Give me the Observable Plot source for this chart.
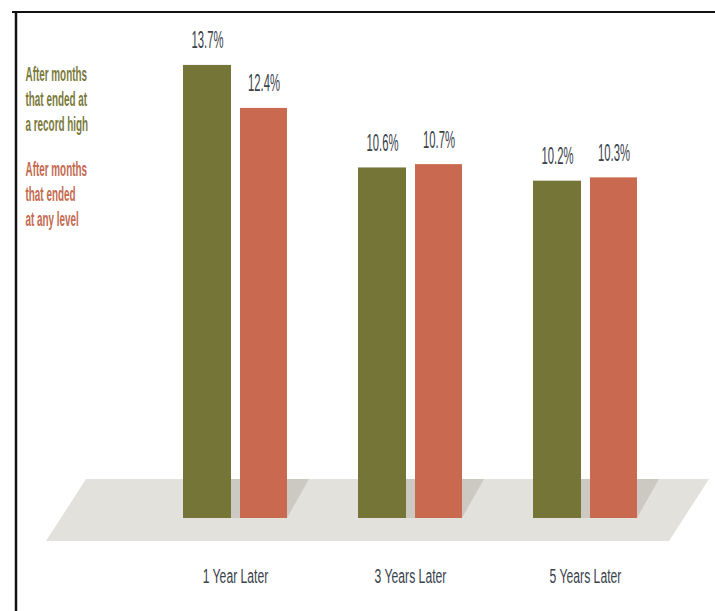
<!DOCTYPE html>
<html>
<head>
<meta charset="utf-8">
<script src="https://cdn.jsdelivr.net/npm/d3@7"></script>
<script src="https://cdn.jsdelivr.net/npm/@observablehq/plot@0.6"></script>
<style>
  html, body { margin: 0; padding: 0; background: #ffffff; }
  #chart { width: 715px; height: 611px; }
</style>
</head>
<body>
<div id="chart"></div>
<script>
// ---- data ----
const periods = ["1 Year Later", "3 Years Later", "5 Years Later"];
const recordHigh = [13.7, 10.6, 10.2];
const anyLevel = [12.4, 10.7, 10.3];
const legendHigh = ["After months", "that ended at", "a record high"];
const legendAny = ["After months", "that ended", "at any level"];

const highData = periods.map((p, i) => ({period: p, value: recordHigh[i]}));
const anyData = periods.map((p, i) => ({period: p, value: anyLevel[i]}));

const GREEN = "#767538";
const RED = "#c9694f";
const LABEL = "#3a424c";
const FONT = "'Liberation Sans', Arial, sans-serif";
const fmt = d => d.value.toFixed(1) + "%";

const plot = Plot.plot({
  width: 715,
  height: 611,
  margin: 0,
  style: {background: "#ffffff", fontFamily: FONT},
  x: {type: "band", domain: periods, range: [147.5, 672.5], padding: 0, round: false, axis: null},
  y: {domain: [0, 14], range: [518, 55], axis: null},
  marks: [
    Plot.barY(highData, {x: "period", y: "value", fill: GREEN, insetLeft: 35.5, insetRight: 91.5}),
    Plot.barY(anyData, {x: "period", y: "value", fill: RED, insetLeft: 92.5, insetRight: 35.5}),
    Plot.text(highData, {x: "period", y: "value", text: fmt, dx: -28, dy: -17, lineAnchor: "bottom", fontSize: 24, fill: LABEL}),
    Plot.text(anyData, {x: "period", y: "value", text: fmt, dx: 28.5, dy: -17, lineAnchor: "bottom", fontSize: 24, fill: LABEL}),
    Plot.text(periods, {x: d => d, frameAnchor: "bottom", lineAnchor: "bottom", dy: -29, fontSize: 21, fill: LABEL}),
    Plot.text([legendHigh.join("\n")], {frameAnchor: "top-left", textAnchor: "start", lineAnchor: "top", dx: 25, dy: 63, fontSize: 20, fontWeight: "bold", lineHeight: 25 / 20, fill: "#7b7a3c", text: d => d}),
    Plot.text([legendAny.join("\n")], {frameAnchor: "top-left", textAnchor: "start", lineAnchor: "top", dx: 25, dy: 158, fontSize: 20, fontWeight: "bold", lineHeight: 25 / 20, fill: "#c46a50", text: d => d})
  ]
});

document.getElementById("chart").appendChild(plot);

const svg = d3.select(plot);

// squeeze text horizontally to mimic the condensed typeface
const squeezeFactors = [0.47, 0.47, 0.58, 0.495, 0.495];
svg.selectAll('g[aria-label="text"]').each(function(_, gi) {
  const k = squeezeFactors[gi] ?? 1;
  d3.select(this).selectAll("text").each(function() {
    const t = this.getAttribute("transform");
    if (t) {
      this.setAttribute("transform", t + ` scale(${k},1)`);
    } else {
      const x = +this.getAttribute("x") || 0, y = +this.getAttribute("y") || 0;
      this.removeAttribute("x"); this.removeAttribute("y");
      this.setAttribute("transform", `translate(${x},${y}) scale(${k},1)`);
    }
  });
});

// floor + shadows behind bars (decoration derived from scales)
const xs = plot.scale("x");
const floorTop = 479, floorBottom = 541, barBase = 518;
const deco = svg.insert("g", "g");
deco.append("path")
  .attr("d", `M86,${floorTop}L709,${floorTop}L669,${floorBottom}L46,${floorBottom}Z`)
  .attr("fill", "#e2e1dc");
periods.forEach(p => {
  const start = xs.apply(p);
  const x0 = start + 35.5, x1 = start + xs.bandwidth - 35.5;
  deco.append("path")
    .attr("d", `M${x0},${floorTop}L${x1 + 22},${floorTop}L${x1},${barBase}L${x0},${barBase}Z`)
    .attr("fill", "#cbc9c1");
});

// frame lines (top and left)
svg.append("line").attr("x1", 12).attr("x2", 715).attr("y1", 12).attr("y2", 12)
  .attr("stroke", "#111").attr("stroke-width", 2);
svg.append("line").attr("x1", 16).attr("x2", 16).attr("y1", 11).attr("y2", 611)
  .attr("stroke", "#111").attr("stroke-width", 2.5);
</script>
</body>
</html>
